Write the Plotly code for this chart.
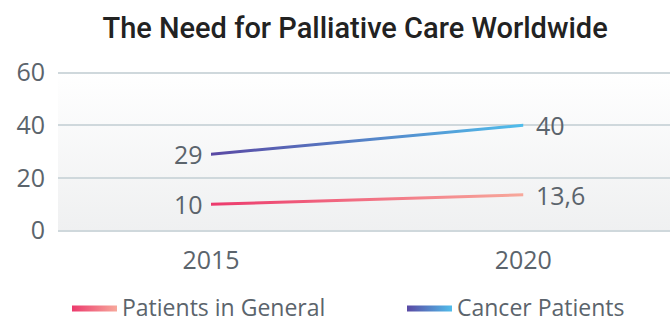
import base64
import plotly.graph_objects as go

# Data
years = ["2015", "2020"]
general_patients = [10, 13.6]
cancer_patients = [29, 40]
series_names = ["Patients in General", "Cancer Patients"]
y_ticks = [0, 20, 40, 60]

# Styling
general_colors = ["#ec3a6d", "#f7a89b"]
cancer_colors = ["#5a49a4", "#50bdeb"]
text_color = "#5b646c"
grid_color = "#cfd8dc"
half_width = 0.58  # half of the line thickness, in y-axis units


def fmt(v):
    return f"{v:g}".replace(".", ",")


def gradient_line(values, colors, name, legend):
    """A line drawn as a thin closed band so it can carry a horizontal gradient."""
    xs = years + years[::-1]
    ys = [v - half_width for v in values] + [v + half_width for v in values[::-1]]
    return go.Scatter(
        x=xs, y=ys, mode="lines", line=dict(width=0, color=colors[0]),
        fill="toself", name=name, legend=legend,
        fillgradient=dict(type="horizontal",
                          colorscale=[[0, colors[0]], [1, colors[1]]]),
        hoverinfo="skip",
    )


fig = go.Figure()
fig.add_trace(gradient_line(general_patients, general_colors, series_names[0], "legend"))
fig.add_trace(gradient_line(cancer_patients, cancer_colors, series_names[1], "legend2"))

# Value labels at both ends of each line (x given as category index)
label_font = dict(family="Open Sans", size=25, color=text_color)
annotations = []
for values in (general_patients, cancer_patients):
    for i, v in enumerate(values):
        annotations.append(dict(
            x=i, y=v, xref="x", yref="y", text=fmt(v), showarrow=False,
            xanchor="right" if i == 0 else "left",
            xshift=-6 if i == 0 else 11,
            font=label_font,
        ))

# Soft vertical gradient behind the plotting area
bg_svg = (
    '<svg xmlns="http://www.w3.org/2000/svg" width="100" height="100" '
    'preserveAspectRatio="none"><defs><linearGradient id="g" x1="0" y1="0" '
    'x2="0" y2="1"><stop offset="0" stop-color="#ffffff"/>'
    '<stop offset="1" stop-color="#eff0f1"/></linearGradient></defs>'
    '<rect width="100" height="100" fill="url(#g)"/></svg>'
)
bg_uri = "data:image/svg+xml;base64," + base64.b64encode(bg_svg.encode()).decode()

legend_common = dict(
    orientation="h", xref="container", yref="container",
    y=0.112, yanchor="top", xanchor="left",
    font=dict(size=23, color=text_color), itemwidth=45,
    bgcolor="rgba(0,0,0,0)",
)

fig.update_layout(
    width=670, height=322,
    margin=dict(l=58, r=0, t=70, b=91, autoexpand=False),
    paper_bgcolor="white",
    plot_bgcolor="white",
    font=dict(family="Open Sans", color=text_color),
    title=dict(
        text="The Need for Palliative Care Worldwide",
        x=0.53, xanchor="center", y=0.915, yanchor="middle",
        yref="container",
        font=dict(family="Roboto", size=29, color="#222222", weight=500),
    ),
    annotations=annotations,
    images=[dict(
        source=bg_uri, xref="paper", yref="paper", x=0, y=1,
        sizex=1, sizey=1, sizing="stretch", layer="below",
        xanchor="left", yanchor="top",
    )],
    xaxis=dict(
        type="category", range=[-0.49, 1.47], showgrid=False,
        showline=False, zeroline=False, ticks="",
        tickfont=dict(size=25, color=text_color), ticklabelstandoff=12,
    ),
    yaxis=dict(
        range=[-0.15, 61], tickvals=y_ticks, showgrid=True,
        gridcolor=grid_color, gridwidth=2, zeroline=True,
        zerolinecolor=grid_color, zerolinewidth=2, showline=False,
        ticks="", tickfont=dict(size=25, color=text_color),
        ticklabelstandoff=12,
    ),
    legend=dict(legend_common, x=67 / 670),
    legend2=dict(legend_common, x=402 / 670),
    showlegend=True,
)

fig.write_html("out.html")
